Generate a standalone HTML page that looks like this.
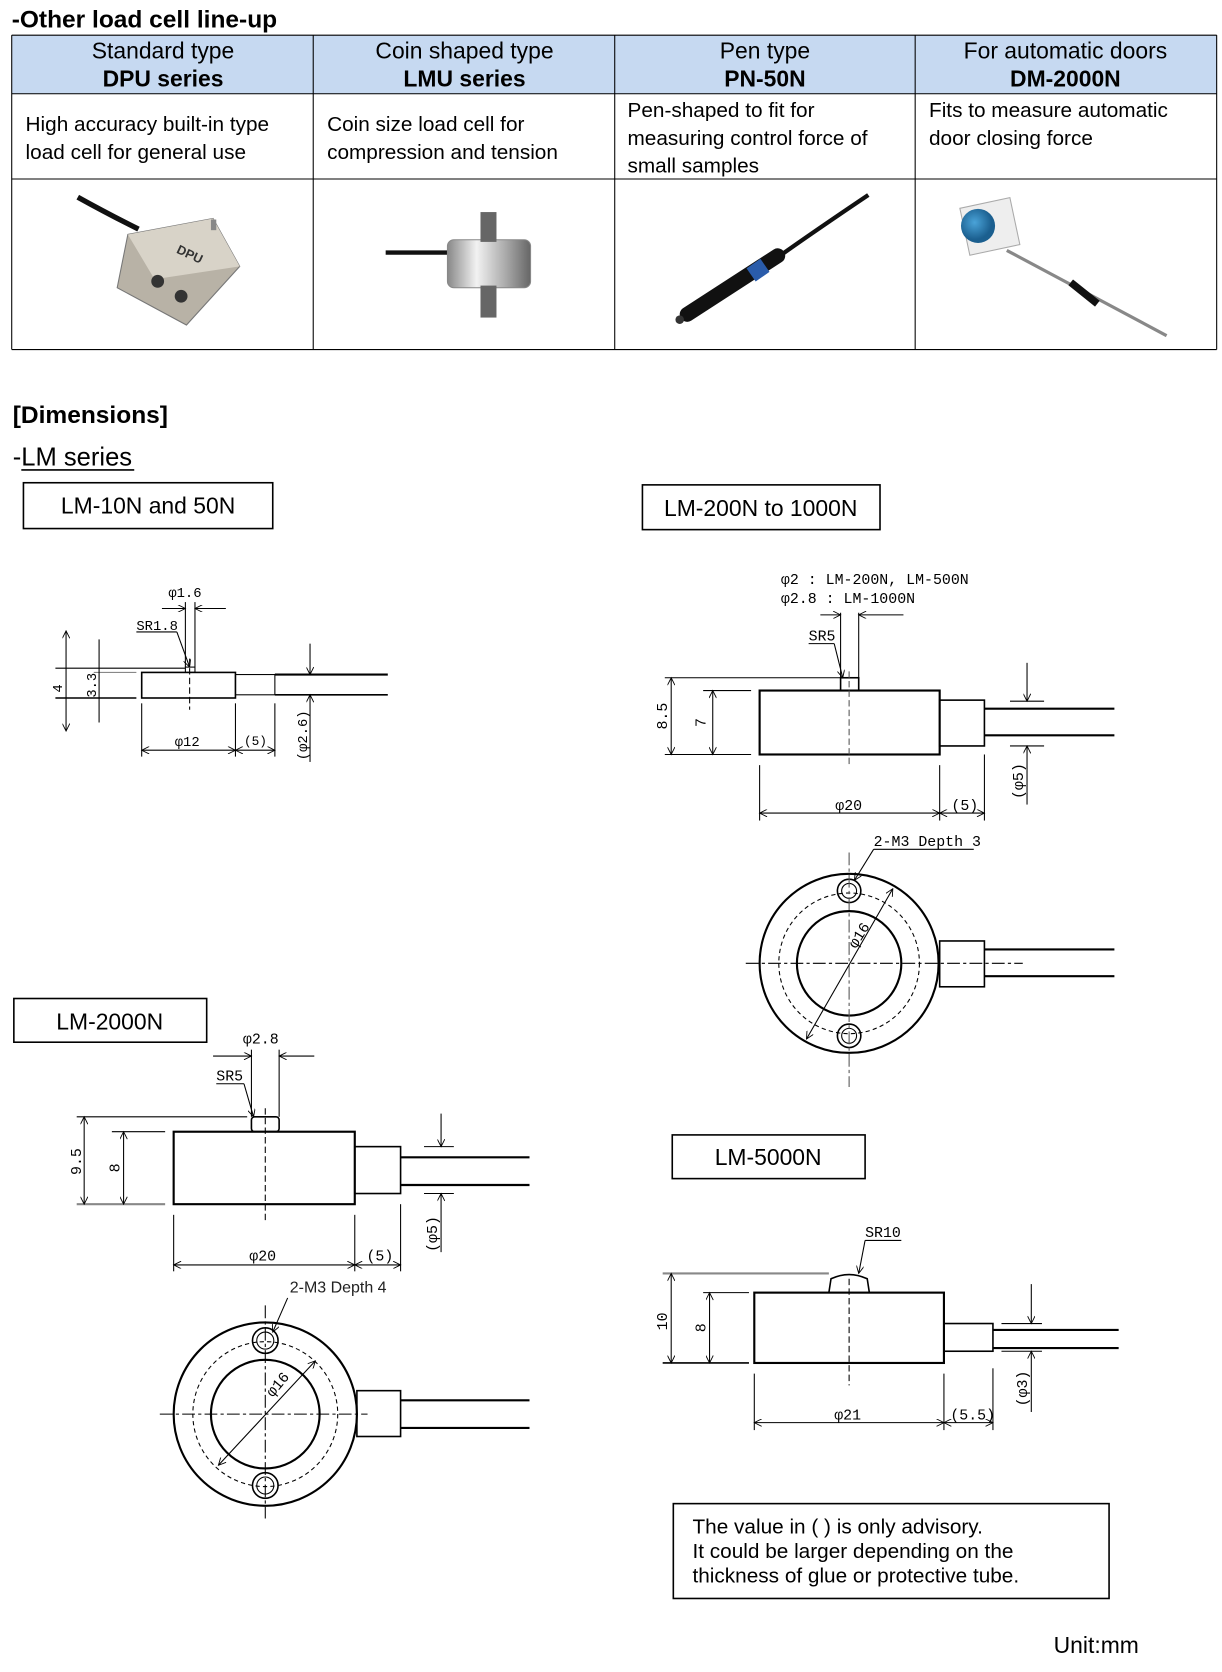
<!DOCTYPE html>
<html><head><meta charset="utf-8"><style>
html,body{margin:0;padding:0;background:#fff;}
svg{display:block;}
.t{font-family:"Liberation Sans",sans-serif;}
.m{font-family:"Liberation Mono","DejaVu Sans Mono",monospace;}
</style></head><body>
<svg width="1222" height="1672" viewBox="0 0 1147 1569" preserveAspectRatio="none" xmlns="http://www.w3.org/2000/svg">
<defs>
<marker id="a" viewBox="0 0 10 10" refX="10" refY="5" markerWidth="9" markerHeight="7" orient="auto-start-reverse" markerUnits="userSpaceOnUse"><path d="M0,0 L10,5 L0,10" fill="none" stroke="#000" stroke-width="1.2"/></marker>
<radialGradient id="blue" cx="40%" cy="40%"><stop offset="0" stop-color="#4aa3d8"/><stop offset="1" stop-color="#1b5f8f"/></radialGradient>
<linearGradient id="cyl" x1="0" x2="1"><stop offset="0" stop-color="#888"/><stop offset=".35" stop-color="#f2f2f2"/><stop offset=".7" stop-color="#aaa"/><stop offset="1" stop-color="#666"/></linearGradient>
</defs>

<text x="11" y="26" class="t" font-size="23" font-weight="bold">-Other load cell line-up</text>

<rect x="11" y="33" width="1131" height="55" fill="#c6d9f1"/>
<g stroke="#000" stroke-width="1" fill="none">
<line x1="11" y1="33" x2="1142" y2="33"/>
<line x1="11" y1="88" x2="1142" y2="88"/>
<line x1="11" y1="168" x2="1142" y2="168"/>
<line x1="11" y1="328" x2="1142" y2="328"/>
<line x1="11" y1="33" x2="11" y2="328"/>
<line x1="294" y1="33" x2="294" y2="328"/>
<line x1="577" y1="33" x2="577" y2="328"/>
<line x1="859" y1="33" x2="859" y2="328"/>
<line x1="1142" y1="33" x2="1142" y2="328"/>
</g>
<g class="t" font-size="21.5" text-anchor="middle">
<text x="153" y="55">Standard type</text><text x="153" y="81" font-weight="bold">DPU series</text>
<text x="436" y="55">Coin shaped type</text><text x="436" y="81" font-weight="bold">LMU series</text>
<text x="718" y="55">Pen type</text><text x="718" y="81" font-weight="bold">PN-50N</text>
<text x="1000" y="55">For automatic doors</text><text x="1000" y="81" font-weight="bold">DM-2000N</text>
</g>
<g class="t" font-size="19.5">
<text x="24" y="123">High accuracy built-in type</text><text x="24" y="149">load cell for general use</text>
<text x="307" y="123">Coin size load cell for</text><text x="307" y="149">compression and tension</text>
<text x="589" y="110">Pen-shaped to fit for</text><text x="589" y="136">measuring control force of</text><text x="589" y="162">small samples</text>
<text x="872" y="110">Fits to measure automatic</text><text x="872" y="136">door closing force</text>
</g>

<path d="M73,185 Q100,200 130,215" stroke="#111" stroke-width="5" fill="none"/>
<polygon points="120,220 200,205 225,250 175,305 110,270" fill="#b8b2a6" stroke="#777"/>
<polygon points="120,220 200,205 225,250 145,262" fill="#d8d3c8"/>
<circle cx="148" cy="264" r="6" fill="#333"/><circle cx="170" cy="278" r="6" fill="#333"/>
<text x="165" y="237" class="t" font-size="12" font-weight="bold" fill="#333" transform="rotate(25 165 237)">DPU</text>
<rect x="198" y="206" width="5" height="10" fill="#888"/>

<path d="M362,237 L425,237" stroke="#111" stroke-width="4"/>
<rect x="420" y="225" width="78" height="45" rx="6" fill="url(#cyl)" stroke="#888"/>
<rect x="451" y="199" width="15" height="28" fill="#666"/>
<rect x="451" y="268" width="15" height="30" fill="#666"/>

<path d="M815,183 Q760,220 725,245" stroke="#111" stroke-width="4" fill="none"/>
<line x1="730" y1="240" x2="645" y2="295" stroke="#111" stroke-width="14" stroke-linecap="round"/>
<line x1="705" y1="258" x2="718" y2="249" stroke="#2a5caa" stroke-width="15"/>
<circle cx="638" cy="300" r="4" fill="#333"/>

<rect x="905" y="190" width="48" height="45" fill="#eee" stroke="#aaa" transform="rotate(-12 929 212)"/>
<circle cx="918" cy="212" r="16" fill="url(#blue)"/>
<line x1="945" y1="235" x2="1095" y2="315" stroke="#888" stroke-width="3"/>
<line x1="1005" y1="265" x2="1030" y2="285" stroke="#111" stroke-width="7"/>

<text x="12" y="397" class="t" font-size="23" font-weight="bold">[Dimensions]</text>
<text x="12" y="437" class="t" font-size="24">-LM series</text>
<line x1="20" y1="441" x2="126" y2="441" stroke="#000" stroke-width="1.5"/>

<g fill="none" stroke="#000" stroke-width="1.5">
<rect x="22" y="453" width="234" height="43"/>
<rect x="603" y="455" width="223" height="42"/>
<rect x="13" y="937" width="181" height="41"/>
<rect x="631" y="1065" width="181" height="41"/>
<rect x="632" y="1411" width="409" height="89"/>
</g>
<g class="t" font-size="21.5" text-anchor="middle">
<text x="139" y="482">LM-10N and 50N</text>
<text x="714" y="484">LM-200N to 1000N</text>
<text x="103" y="966">LM-2000N</text>
<text x="721" y="1093">LM-5000N</text>
</g>
<g class="t" font-size="19.5">
<text x="650" y="1439">The value in ( ) is only advisory.</text>
<text x="650" y="1462">It could be larger depending on the</text>
<text x="650" y="1485">thickness of glue or protective tube.</text>
</g>
<text x="989" y="1551" class="t" font-size="21.5">Unit:mm</text>

<g stroke="#000" fill="none" stroke-width="1">
<rect x="133" y="631" width="88" height="24" stroke-width="1.5"/>
<rect x="221" y="633" width="37" height="19"/>
<line x1="258" y1="633" x2="364" y2="633" stroke-width="2"/>
<line x1="258" y1="652" x2="364" y2="652" stroke-width="1.5"/>
<rect x="174" y="626" width="9" height="5"/>
<line x1="52" y1="627" x2="174" y2="627"/>
<line x1="52" y1="655" x2="128" y2="655" stroke-width="1.5"/>
<line x1="88" y1="631" x2="128" y2="631" stroke="#888"/>
<line x1="62" y1="592" x2="62" y2="686" marker-start="url(#a)" marker-end="url(#a)"/>
<line x1="93" y1="600" x2="93" y2="678"/>
<line x1="178" y1="618" x2="178" y2="666" stroke-dasharray="6,3"/>
<line x1="174" y1="565" x2="174" y2="626"/>
<line x1="183" y1="565" x2="183" y2="626"/>
<line x1="152" y1="571" x2="174" y2="571" marker-end="url(#a)"/>
<line x1="212" y1="571" x2="183" y2="571" marker-end="url(#a)"/>
<line x1="128" y1="593" x2="166" y2="593"/>
<line x1="166" y1="593" x2="178" y2="626" marker-end="url(#a)"/>
<line x1="133" y1="660" x2="133" y2="710"/>
<line x1="221" y1="660" x2="221" y2="710"/>
<line x1="258" y1="660" x2="258" y2="710"/>
<line x1="133" y1="704" x2="221" y2="704" marker-start="url(#a)" marker-end="url(#a)"/>
<line x1="221" y1="704" x2="258" y2="704" marker-start="url(#a)" marker-end="url(#a)"/>
<line x1="291" y1="604" x2="291" y2="633" marker-end="url(#a)"/>
<line x1="291" y1="715" x2="291" y2="652" marker-end="url(#a)"/>
</g>
<g class="m" font-size="13">
<text x="158" y="560">φ1.6</text>
<text x="128" y="591">SR1.8</text>
<text x="164" y="700">φ12</text>
<text x="229" y="699" font-size="12">(5)</text>
<text x="58" y="646" transform="rotate(-90 58 646)" text-anchor="middle">4</text>
<text x="90" y="643" transform="rotate(-90 90 643)" text-anchor="middle">3.3</text>
<text x="288" y="690" transform="rotate(-90 288 690)" text-anchor="middle">(φ2.6)</text>
</g>

<g stroke="#000" fill="none" stroke-width="1">
<rect x="713" y="648" width="169" height="60" stroke-width="2"/>
<rect x="882" y="657" width="42" height="43" stroke-width="1.5"/>
<line x1="924" y1="665" x2="1046" y2="665" stroke-width="2"/>
<line x1="924" y1="690" x2="1046" y2="690" stroke-width="2"/>
<rect x="789" y="636" width="17" height="12" stroke-width="1.5"/>
<line x1="624" y1="636" x2="789" y2="636"/>
<line x1="624" y1="708" x2="705" y2="708"/>
<line x1="660" y1="648" x2="705" y2="648"/>
<line x1="630" y1="636" x2="630" y2="708" marker-start="url(#a)" marker-end="url(#a)"/>
<line x1="669" y1="648" x2="669" y2="708" marker-start="url(#a)" marker-end="url(#a)"/>
<line x1="797" y1="630" x2="797" y2="718" stroke-dasharray="6,3" stroke="#555"/>
<line x1="789" y1="575" x2="789" y2="636"/>
<line x1="806" y1="575" x2="806" y2="636"/>
<line x1="770" y1="577" x2="789" y2="577" marker-end="url(#a)"/>
<line x1="848" y1="577" x2="806" y2="577" marker-end="url(#a)"/>
<line x1="759" y1="604" x2="783" y2="604"/>
<line x1="783" y1="604" x2="791" y2="636" marker-end="url(#a)"/>
<line x1="713" y1="718" x2="713" y2="770"/>
<line x1="882" y1="718" x2="882" y2="770"/>
<line x1="924" y1="708" x2="924" y2="770"/>
<line x1="713" y1="763" x2="882" y2="763" marker-start="url(#a)" marker-end="url(#a)"/>
<line x1="882" y1="763" x2="924" y2="763" marker-start="url(#a)" marker-end="url(#a)"/>
<line x1="964" y1="622" x2="964" y2="658" marker-end="url(#a)"/>
<line x1="964" y1="755" x2="964" y2="700" marker-end="url(#a)"/>
<line x1="948" y1="658" x2="980" y2="658"/>
<line x1="948" y1="700" x2="980" y2="700"/>
<circle cx="797" cy="904" r="84" stroke-width="2"/>
<circle cx="797" cy="904" r="66" stroke-dasharray="4,3"/>
<circle cx="797" cy="904" r="49" stroke-width="2"/>
<circle cx="797" cy="836" r="11" stroke-width="1.5"/><circle cx="797" cy="836" r="7"/>
<circle cx="797" cy="972" r="11" stroke-width="1.5"/><circle cx="797" cy="972" r="7"/>
<rect x="882" y="883" width="42" height="43" stroke-width="1.5"/>
<line x1="924" y1="891" x2="1046" y2="891" stroke-width="2"/>
<line x1="924" y1="916" x2="1046" y2="916" stroke-width="2"/>
<line x1="700" y1="904" x2="960" y2="904" stroke-dasharray="12,3,3,3"/>
<line x1="797" y1="800" x2="797" y2="1020" stroke-dasharray="12,3,3,3" stroke="#555"/>
<line x1="757" y1="975" x2="838" y2="834" marker-start="url(#a)" marker-end="url(#a)"/>
<line x1="820" y1="797" x2="914" y2="797"/>
<line x1="820" y1="797" x2="802" y2="826" marker-end="url(#a)"/>
</g>
<g class="m" font-size="14">
<text x="733" y="548">φ2 : LM-200N, LM-500N</text>
<text x="733" y="566">φ2.8 : LM-1000N</text>
<text x="759" y="601">SR5</text>
<text x="784" y="760">φ20</text>
<text x="893" y="760">(5)</text>
<text x="626" y="672" transform="rotate(-90 626 672)" text-anchor="middle">8.5</text>
<text x="662" y="678" transform="rotate(-90 662 678)" text-anchor="middle">7</text>
<text x="960" y="733" transform="rotate(-90 960 733)" text-anchor="middle">(φ5)</text>
<text x="820" y="794">2-M3 Depth 3</text>
<text x="810" y="880" transform="rotate(-58 810 880)" text-anchor="middle">φ16</text>
</g>

<g stroke="#000" fill="none" stroke-width="1">
<rect x="163" y="1062" width="170" height="68" stroke-width="2"/>
<rect x="333" y="1076" width="43" height="44" stroke-width="1.5"/>
<line x1="376" y1="1086" x2="497" y2="1086" stroke-width="2"/>
<line x1="376" y1="1112" x2="497" y2="1112" stroke-width="2"/>
<rect x="236" y="1048" width="26" height="14" rx="3" stroke-width="1.5"/>
<line x1="72" y1="1048" x2="232" y2="1048"/>
<line x1="72" y1="1130" x2="155" y2="1130" stroke="#888" stroke-width="2"/>
<line x1="105" y1="1062" x2="155" y2="1062"/>
<line x1="79" y1="1048" x2="79" y2="1130" marker-start="url(#a)" marker-end="url(#a)"/>
<line x1="116" y1="1062" x2="116" y2="1130" marker-start="url(#a)" marker-end="url(#a)"/>
<line x1="249" y1="1040" x2="249" y2="1145" stroke-dasharray="6,3"/>
<line x1="236" y1="985" x2="236" y2="1048"/>
<line x1="262" y1="985" x2="262" y2="1048"/>
<line x1="200" y1="991" x2="236" y2="991" marker-end="url(#a)"/>
<line x1="295" y1="991" x2="262" y2="991" marker-end="url(#a)"/>
<line x1="203" y1="1017" x2="229" y2="1017"/>
<line x1="229" y1="1017" x2="238" y2="1048" marker-end="url(#a)"/>
<line x1="163" y1="1140" x2="163" y2="1193"/>
<line x1="333" y1="1140" x2="333" y2="1193"/>
<line x1="376" y1="1130" x2="376" y2="1193"/>
<line x1="163" y1="1187" x2="333" y2="1187" marker-start="url(#a)" marker-end="url(#a)"/>
<line x1="333" y1="1187" x2="376" y2="1187" marker-start="url(#a)" marker-end="url(#a)"/>
<line x1="414" y1="1045" x2="414" y2="1076" marker-end="url(#a)"/>
<line x1="414" y1="1175" x2="414" y2="1120" marker-end="url(#a)"/>
<line x1="398" y1="1076" x2="426" y2="1076"/>
<line x1="398" y1="1120" x2="426" y2="1120"/>
<circle cx="249" cy="1327" r="86" stroke-width="2"/>
<circle cx="249" cy="1327" r="68" stroke-dasharray="4,3"/>
<circle cx="249" cy="1327" r="51" stroke-width="2"/>
<circle cx="249" cy="1258" r="12" stroke-width="1.5"/><circle cx="249" cy="1258" r="8"/>
<circle cx="249" cy="1394" r="12" stroke-width="1.5"/><circle cx="249" cy="1394" r="8"/>
<rect x="335" y="1305" width="41" height="43" stroke-width="1.5"/>
<line x1="376" y1="1314" x2="497" y2="1314" stroke-width="2"/>
<line x1="376" y1="1340" x2="497" y2="1340" stroke-width="2"/>
<line x1="150" y1="1327" x2="345" y2="1327" stroke-dasharray="12,3,3,3"/>
<line x1="249" y1="1225" x2="249" y2="1425" stroke-dasharray="12,3,3,3"/>
<line x1="205" y1="1375" x2="296" y2="1277" marker-start="url(#a)" marker-end="url(#a)"/>
<line x1="270" y1="1218" x2="256" y2="1250" marker-end="url(#a)"/>
</g>
<g class="m" font-size="14">
<text x="228" y="979">φ2.8</text>
<text x="203" y="1014">SR5</text>
<text x="234" y="1183">φ20</text>
<text x="344" y="1183">(5)</text>
<text x="76" y="1090" transform="rotate(-90 76 1090)" text-anchor="middle">9.5</text>
<text x="112" y="1096" transform="rotate(-90 112 1096)" text-anchor="middle">8</text>
<text x="410" y="1158" transform="rotate(-90 410 1158)" text-anchor="middle">(φ5)</text>
<text x="264" y="1302" transform="rotate(-50 264 1302)" text-anchor="middle">φ16</text>
</g>
<text x="272" y="1213" class="t" font-size="15" fill="#222">2-M3 Depth 4</text>

<g stroke="#000" fill="none" stroke-width="1">
<rect x="708" y="1213" width="178" height="66" stroke-width="2"/>
<rect x="886" y="1242" width="46" height="26" stroke-width="1.5"/>
<line x1="932" y1="1248" x2="1050" y2="1248" stroke-width="2"/>
<line x1="932" y1="1265" x2="1050" y2="1265" stroke-width="2"/>
<path d="M778,1213 L780,1200 Q797,1192 814,1200 L816,1213" stroke-width="1.5"/>
<line x1="622" y1="1195" x2="778" y2="1195" stroke="#888" stroke-width="2"/>
<line x1="622" y1="1279" x2="703" y2="1279" stroke-width="1.5"/>
<line x1="660" y1="1213" x2="703" y2="1213"/>
<line x1="630" y1="1195" x2="630" y2="1279" marker-start="url(#a)" marker-end="url(#a)"/>
<line x1="666" y1="1213" x2="666" y2="1279" marker-start="url(#a)" marker-end="url(#a)"/>
<line x1="797" y1="1200" x2="797" y2="1300" stroke-dasharray="6,3"/>
<line x1="812" y1="1164" x2="846" y2="1164"/>
<line x1="812" y1="1164" x2="806" y2="1195" marker-end="url(#a)"/>
<line x1="708" y1="1289" x2="708" y2="1342"/>
<line x1="886" y1="1289" x2="886" y2="1342"/>
<line x1="932" y1="1284" x2="932" y2="1342"/>
<line x1="708" y1="1335" x2="886" y2="1335" marker-start="url(#a)" marker-end="url(#a)"/>
<line x1="886" y1="1335" x2="932" y2="1335" marker-start="url(#a)" marker-end="url(#a)"/>
<line x1="968" y1="1205" x2="968" y2="1242" marker-end="url(#a)"/>
<line x1="968" y1="1325" x2="968" y2="1268" marker-end="url(#a)"/>
<line x1="940" y1="1242" x2="978" y2="1242"/>
<line x1="940" y1="1268" x2="978" y2="1268"/>
</g>
<g class="m" font-size="14">
<text x="812" y="1161">SR10</text>
<text x="783" y="1332">φ21</text>
<text x="892" y="1332">(5.5)</text>
<text x="626" y="1240" transform="rotate(-90 626 1240)" text-anchor="middle">10</text>
<text x="662" y="1246" transform="rotate(-90 662 1246)" text-anchor="middle">8</text>
<text x="964" y="1303" transform="rotate(-90 964 1303)" text-anchor="middle">(φ3)</text>
</g>
</svg>
</body></html>
